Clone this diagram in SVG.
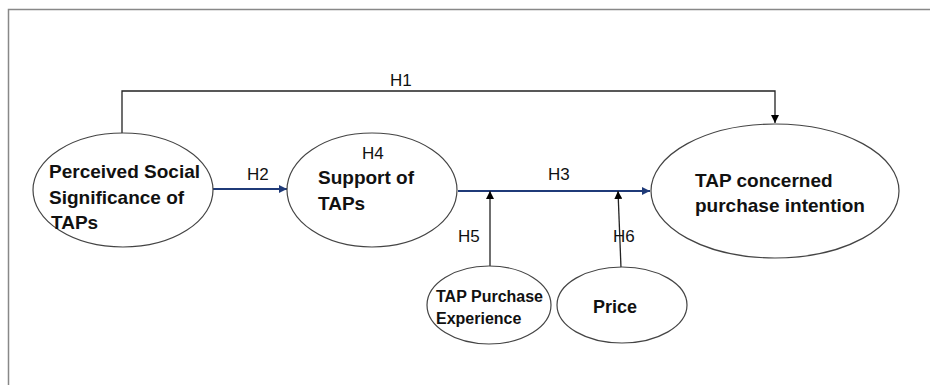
<svg xmlns="http://www.w3.org/2000/svg" width="930" height="385" viewBox="0 0 930 385">
<defs>
<marker id="ab" viewBox="0 0 10 10" refX="10" refY="5" markerWidth="8" markerHeight="8" markerUnits="userSpaceOnUse" orient="auto"><path d="M0,0 L10,5 L0,10 z" fill="#000"/></marker>
<marker id="ab2" viewBox="0 0 10 10" refX="10" refY="5" markerWidth="8" markerHeight="8" markerUnits="userSpaceOnUse" orient="auto"><path d="M0,0 L10,5 L0,10 z" fill="#1f3a78"/></marker>
</defs>
<style>
.node{fill:#fff;stroke:#444;stroke-width:1.2}
.t{font-family:"Liberation Sans",Arial,sans-serif;font-weight:bold;fill:#111}
.lab{font-family:"Liberation Sans",Arial,sans-serif;font-size:17px;fill:#111}
.k{fill:none;stroke:#222;stroke-width:1.3}
.b{fill:none;stroke:#1f3a78;stroke-width:1.8}
.frame{fill:none;stroke:#888;stroke-width:1.5}
</style>
<rect width="930" height="385" fill="#fff"/>
<path class="frame" d="M8.5,385 V9.5 H930"/>
<g id="connectors">
<path class="k" d="M122,133 V91 H775 V123" marker-end="url(#ab)"/>
<text class="lab" x="390" y="86">H1</text>
<path class="b" d="M213,189 H287" marker-end="url(#ab2)"/>
<text class="lab" x="247" y="180">H2</text>
<path class="b" d="M458,191 H650" marker-end="url(#ab2)"/>
<text class="lab" x="548" y="180">H3</text>
<path class="k" d="M490,266 V191" marker-end="url(#ab)"/>
<text class="lab" x="458" y="242">H5</text>
<path class="k" d="M621,268 L618,191" marker-end="url(#ab)"/>
<text class="lab" x="613" y="242">H6</text>
</g>
<g id="n1">
<ellipse class="node" cx="123" cy="190" rx="90" ry="57"/>
<text class="t" font-size="19" x="49" y="178">Perceived Social</text>
<text class="t" font-size="19" x="49" y="204">Significance of</text>
<text class="t" font-size="19" x="51" y="229">TAPs</text>
</g>
<g id="n2">
<ellipse class="node" cx="372" cy="190" rx="85" ry="57"/>
<text class="lab" x="362" y="159">H4</text>
<text class="t" font-size="19" x="318" y="184">Support of</text>
<text class="t" font-size="19" x="318" y="210">TAPs</text>
</g>
<g id="n3">
<ellipse class="node" cx="775" cy="191" rx="124" ry="67"/>
<text class="t" font-size="19" x="695" y="187">TAP concerned</text>
<text class="t" font-size="19" x="695" y="212">purchase intention</text>
</g>
<g id="n4">
<ellipse class="node" cx="489" cy="305" rx="62" ry="39"/>
<text class="t" font-size="16" x="436" y="302">TAP Purchase</text>
<text class="t" font-size="16" x="436" y="324">Experience</text>
</g>
<g id="n5">
<ellipse class="node" cx="622" cy="305" rx="65" ry="38"/>
<text class="t" font-size="18" x="593" y="313">Price</text>
</g>
</svg>
